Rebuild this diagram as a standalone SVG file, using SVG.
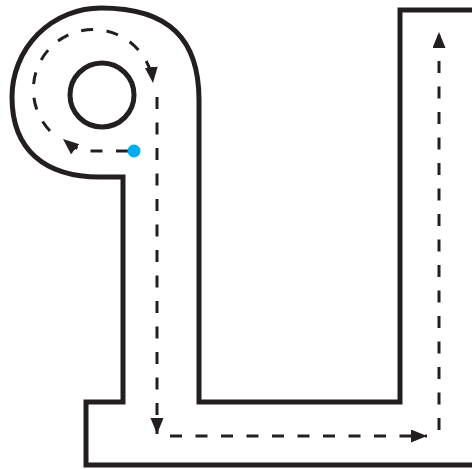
<svg xmlns="http://www.w3.org/2000/svg" width="472" height="469" viewBox="0 0 472 469">
  <style>
    .wall { fill: none; stroke: #231f20; stroke-width: 5; stroke-linejoin: miter; }
    .flow { fill: none; stroke: #231f20; stroke-width: 3; stroke-dasharray: 12 13.5; }
  </style>
  <defs>
    <marker id="arrow" markerUnits="userSpaceOnUse" markerWidth="17" markerHeight="14" refX="16" refY="6.5" orient="auto">
      <path d="M0,0 L16,6.5 L0,13 z" fill="#231f20"/>
    </marker>
  </defs>
  <rect width="472" height="469" fill="#ffffff"/>
  <g id="channel">
    <path class="wall" d="M 472 10 L 400 10 L 400 402 L 199 402 L 199 100 C 199 40 170 8 101 8 A 89 89 0 0 0 12 97 C 12 150 45 177 100 177 L 123 177 L 123 402 L 86 402 L 86 465 L 472 465"/>
  </g>
  <g id="island">
    <circle class="wall" cx="102" cy="95" r="32"/>
  </g>
  <g id="connectors">
    <path class="flow" marker-end="url(#arrow)" d="M 128 151 L 88 151 Q 76 150 63 139"/>
    <path class="flow" marker-end="url(#arrow)" d="M 50 131 A 60 60 0 1 1 153 83"/>
    <path class="flow" marker-end="url(#arrow)" d="M 157 97 L 157 434"/>
    <path class="flow" marker-end="url(#arrow)" d="M 170 436 L 427 436"/>
    <path class="flow" marker-end="url(#arrow)" d="M 439 430 L 439 32"/>
  </g>
  <g id="source">
    <circle cx="134" cy="151" r="6.5" fill="#00aeef"/>
  </g>
</svg>
